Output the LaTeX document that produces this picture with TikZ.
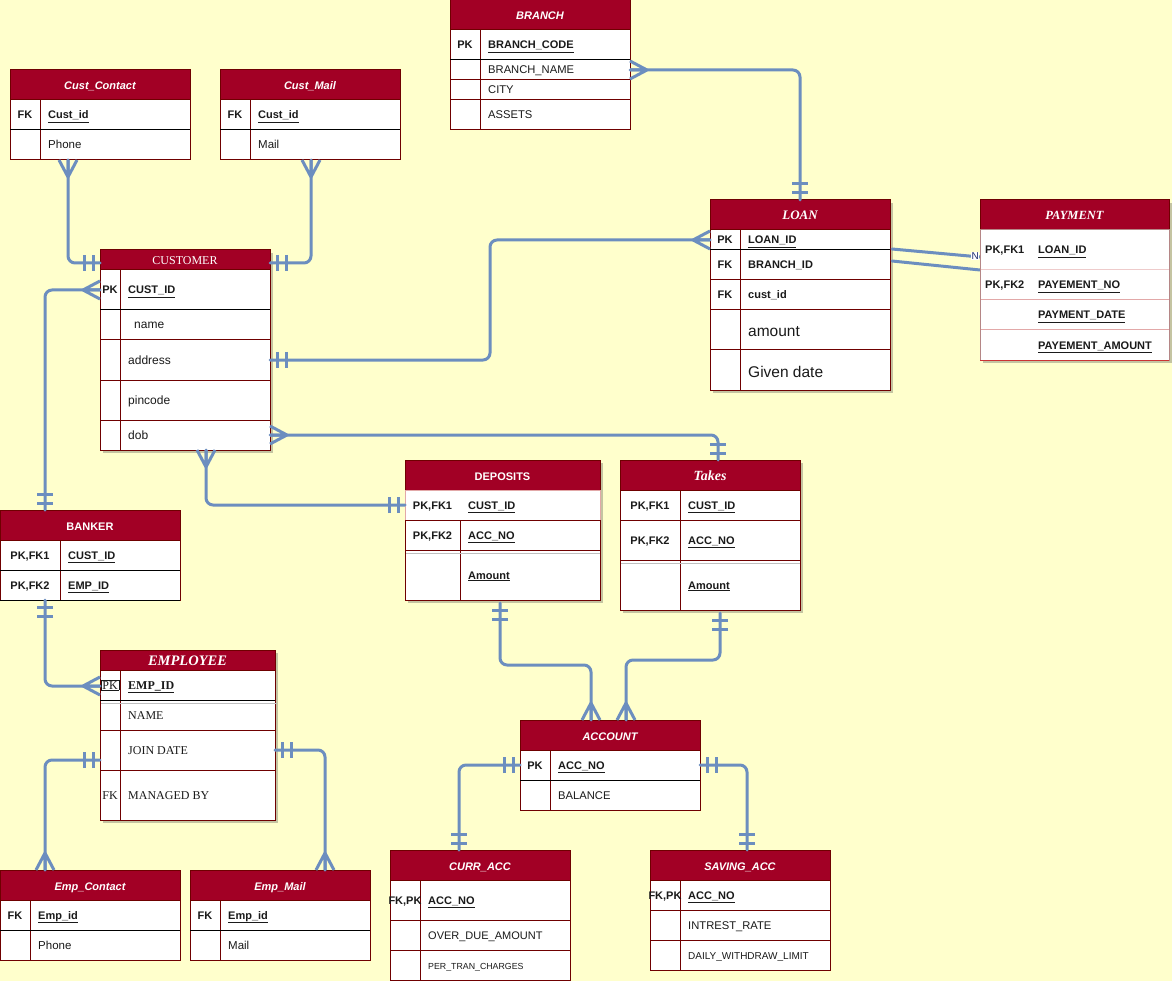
\documentclass[tikz,border=0pt]{standalone}
\usepackage{fontspec}
\setmainfont{Liberation Sans}
\newfontfamily\serifff{Liberation Serif}
\usetikzlibrary{calc}
\definecolor{bgc}{HTML}{FFFFCC}
\definecolor{hdrc}{HTML}{A20025}
\definecolor{bordc}{HTML}{6F0000}
\definecolor{connc}{HTML}{6C8EBF}
\definecolor{shadc}{HTML}{C4C4A2}
\definecolor{txtc}{HTML}{1A1A1A}
\definecolor{pinkc}{HTML}{E2A8A8}
\definecolor{redc}{HTML}{CC3333}
\definecolor{nlab}{HTML}{1F2F6F}
\newif\ifdivline \divlinetrue
\newcommand\fs[1]{\fontsize{#1}{#1}\selectfont}
\tikzset{
  hdr/.style={draw=bordc, fill=hdrc, text=white, inner sep=0pt, outer sep=0pt, line width=1pt, font=\fs{11}\bfseries\itshape},
  htxt/.style={inner sep=0pt, text=white, text height=8pt, text depth=0pt},
  rowbox/.style={draw=bordc, fill=white, inner sep=0pt, outer sep=0pt, line width=1pt},
  ktxt/.style={inner sep=0pt, text=txtc, font=\fs{11}\bfseries, text height=8pt, text depth=0pt},
  ftxt/.style={inner sep=0pt, anchor=west, text=txtc, font=\fs{11.5}, text height=8pt, text depth=0pt},
  divl/.style={draw=bordc, line width=1pt},
  blk/.style={draw=black, line width=1pt},
  greyl/.style={draw=black!25, line width=1pt},
  conn/.style={draw=connc, line width=3pt, rounded corners=7pt, line cap=round, line join=round},
  tip/.style={draw=connc, line width=3pt},
  many/.pic={\draw[tip] (17,0) -- (0,-9) (17,0) -- (0,0) (17,0) -- (0,9);},
  one/.pic={\draw[tip] (7,-8) -- (7,8) (16,-8) -- (16,8);},
}
\newcommand\erhead[6][]{%
  \node[hdr,anchor=north west,minimum width=#4,minimum height=#5,#1] (#2) at (#3) {};
  \node[htxt,hdr,draw=none,fill=none,#1] at ([yshift=-1pt]#2.center) {#6};}
\newcommand\errow[8][]{%
  \node[rowbox,anchor=north west,minimum width=#4,minimum height=#5,#1] (#2) at (#3) {};
  \ifdivline\draw[divl] ($(#2.north west)+(#6,0)$) -- ($(#2.south west)+(#6,0)$);\fi
  \node[ktxt] at ($(#2.west)+(#6/2,0)$) {#7};
  \node[ftxt] at ($(#2.west)+(#6+8,0)$) {#8};
}
\newcommand\bu[1]{{\bfseries\fs{11}\underline{#1}}}
\begin{document}
\begin{tikzpicture}[x=1pt,y=-1pt]
\fill[bgc] (0,0) rectangle (1172,981);
\useasboundingbox (0,0) rectangle (1172,981);
% shadows
\fill[shadc] (103,253) rectangle (273,453);
\fill[shadc] (713,203) rectangle (893,393);
\fill[shadc] (983,203) rectangle (1172,363);
\fill[shadc] (408,463) rectangle (603,603);
\fill[shadc] (623,463) rectangle (803,613);
\fill[shadc] (103,653) rectangle (278,823);

% Cust_Contact
\erhead{cc}{10,70}{180}{30}{Cust\_Contact}
\errow{cc1}{10,100}{180}{30}{30}{FK}{\bu{Cust\_id}}
\errow{cc2}{10,130}{180}{30}{30}{}{Phone}
\draw[blk] (cc1.south west) -- (cc1.south east);
% Cust_Mail
\erhead{cm}{220,70}{180}{30}{Cust\_Mail}
\errow{cm1}{220,100}{180}{30}{30}{FK}{\bu{Cust\_id}}
\errow{cm2}{220,130}{180}{30}{30}{}{Mail}
\draw[blk] (cm1.south west) -- (cm1.south east);
% BRANCH
\erhead{br}{450,0}{180}{30}{BRANCH}
\errow{br1}{450,30}{180}{30}{30}{PK}{\bu{BRANCH\_CODE}}
\errow{br2}{450,60}{180}{20}{30}{}{\fs{11.2}BRANCH\_NAME}
\errow{br3}{450,80}{180}{20}{30}{}{\fs{11.2}CITY}
\errow{br4}{450,100}{180}{30}{30}{}{\fs{11.2}ASSETS}
\draw[blk] (br1.south west) -- (br1.south east);
% CUSTOMER
\erhead[font=\serifff\fs{12}]{cu}{100,250}{170}{20}{CUSTOMER}
\errow{cu1}{100,270}{170}{40}{20}{PK}{\bu{CUST\_ID}}
\errow{cu2}{100,310}{170}{30}{20}{}{\fs{12}\hspace*{6pt}name}
\errow{cu3}{100,340}{170}{40}{20}{}{\fs{12}address}
\errow{cu4}{100,380}{170}{40}{20}{}{\fs{12}pincode}
\errow{cu5}{100,420}{170}{30}{20}{}{\fs{12}dob}
\draw[blk] (cu1.south west) -- (cu1.south east);
% LOAN
\erhead[font=\serifff\bfseries\itshape\fs{13}]{lo}{710,200}{180}{30}{LOAN}
\errow{lo1}{710,230}{180}{20}{30}{PK}{\bu{LOAN\_ID}}
\errow{lo2}{710,250}{180}{30}{30}{FK}{\bfseries\fs{11}BRANCH\_ID}
\errow{lo3}{710,280}{180}{30}{30}{FK}{\bfseries\fs{11}cust\_id}
\errow{lo4}{710,310}{180}{40}{30}{}{\raisebox{-3pt}{\fs{15.5}amount}}
\errow{lo5}{710,350}{180}{40}{30}{}{\raisebox{-3pt}{\fs{15.5}Given date}}
\draw[blk] (lo1.south west) -- (lo1.south east);
% DEPOSITS
\erhead[font=\bfseries\fs{11}]{dp}{405,460}{195}{30}{DEPOSITS}
\divlinefalse
\errow[draw=pinkc]{dp1}{405,490}{195}{30}{55}{PK,FK1}{\bu{CUST\_ID}}
\divlinetrue
\errow{dp2}{405,520}{195}{30}{55}{PK,FK2}{\bu{ACC\_NO}}
\errow{dp3}{405,550}{195}{50}{55}{}{\bu{Amount}}
\draw[greyl] (406,553.5) -- (600,553.5);
% Takes
\erhead[font=\serifff\bfseries\itshape\fs{14}]{tk}{620,460}{180}{30}{Takes}
\errow{tk1}{620,490}{180}{30}{60}{PK,FK1}{\bu{CUST\_ID}}
\errow{tk2}{620,520}{180}{40}{60}{PK,FK2}{\bu{ACC\_NO}}
\errow{tk3}{620,560}{180}{50}{60}{}{\bu{Amount}}
\draw[greyl] (621,563.5) -- (800,563.5);
% ACCOUNT
\erhead{ac}{520,720}{180}{30}{ACCOUNT}
\errow{ac1}{520,750}{180}{30}{30}{PK}{\bu{ACC\_NO}}
\errow{ac2}{520,780}{180}{30}{30}{}{\fs{11.2}BALANCE}
\draw[blk] (ac1.south west) -- (ac1.south east);
% BANKER
\erhead[font=\bfseries\fs{11}]{bk}{0,510}{180}{30}{BANKER}
\errow{bk1}{0,540}{180}{30}{60}{PK,FK1}{\bu{CUST\_ID}}
\errow{bk2}{0,570}{180}{30}{60}{PK,FK2}{\bu{EMP\_ID}}
\draw[blk] (bk1.south west) -- (bk1.south east);
\draw[blk] (bk2.south west) -- (bk2.south east);
% EMPLOYEE
\erhead[font=\serifff\bfseries\itshape\fs{14.5}]{em}{100,650}{175}{20}{EMPLOYEE}
\errow{em1}{100,670}{175}{30}{20}{{\serifff\mdseries\fs{12}\setlength\fboxsep{1pt}\fbox{PK}}}{{\serifff\bfseries\fs{12}\underline{EMP\_ID}}}
\errow{em2}{100,700}{175}{30}{20}{}{\serifff\fs{12}NAME}
\errow{em3}{100,730}{175}{40}{20}{}{\serifff\fs{12}JOIN DATE}
\errow{em4}{100,770}{175}{50}{20}{{\serifff\mdseries\fs{12}FK}}{\serifff\fs{12}MANAGED BY}
\draw[blk] (em1.south west) -- (em1.south east);
\draw[greyl] (101,703.5) -- (277,703.5);
% Emp_Contact
\erhead{ec}{0,870}{180}{30}{Emp\_Contact}
\errow{ec1}{0,900}{180}{30}{30}{FK}{\bu{Emp\_id}}
\errow{ec2}{0,930}{180}{30}{30}{}{Phone}
\draw[blk] (ec1.south west) -- (ec1.south east);
% Emp_Mail
\erhead{emm}{190,870}{180}{30}{Emp\_Mail}
\errow{emm1}{190,900}{180}{30}{30}{FK}{\bu{Emp\_id}}
\errow{emm2}{190,930}{180}{30}{30}{}{Mail}
\draw[blk] (emm1.south west) -- (emm1.south east);
% CURR_ACC
\erhead{ca}{390,850}{180}{30}{CURR\_ACC}
\errow{ca1}{390,880}{180}{40}{30}{FK,PK}{\bu{ACC\_NO}}
\errow{ca2}{390,920}{180}{30}{30}{}{\fs{11}OVER\_DUE\_AMOUNT}
\errow{ca3}{390,950}{180}{30}{30}{}{\fs{8.8}PER\_TRAN\_CHARGES}
% SAVING_ACC
\erhead{sa}{650,850}{180}{30}{SAVING\_ACC}
\errow{sa1}{650,880}{180}{30}{30}{FK,PK}{\bu{ACC\_NO}}
\errow{sa2}{650,910}{180}{30}{30}{}{\fs{11.2}INTREST\_RATE}
\errow{sa3}{650,940}{180}{30}{30}{}{\fs{10}DAILY\_WITHDRAW\_LIMIT}

% connector end points
\coordinate (ccS) at (68,160);   \coordinate (cuL1) at (100,263);
\coordinate (cmS) at (311,160);  \coordinate (cuR1) at (270,263);
\coordinate (bkN) at (45,510);   \coordinate (cuL2) at (100,290);
\coordinate (cuR3) at (270,360); \coordinate (loL) at (710,240);
\coordinate (brR) at (630,70);   \coordinate (loN) at (800,200);
\coordinate (cuR5) at (270,435); \coordinate (tkN) at (718,460);
\coordinate (cuS) at (206,450);  \coordinate (dpL) at (405,505);
\coordinate (dpS) at (500,603);  \coordinate (acN1) at (591,720);
\coordinate (tkS) at (720,613);  \coordinate (acN2) at (626,720);
\coordinate (bkS) at (45,600);   \coordinate (emL1) at (100,686);
\coordinate (emL3) at (100,760); \coordinate (ecN) at (45,870);
\coordinate (emR) at (275,750);  \coordinate (emmN) at (325,870);
\coordinate (acL) at (520,765);  \coordinate (caN) at (459,850);
\coordinate (acR) at (700,765);  \coordinate (saN) at (747,850);
\coordinate (loR1) at (892,249); \coordinate (paL1) at (980,257);
\coordinate (loR2) at (892,261); \coordinate (paL2) at (980,270);

% connectors
\draw[conn] (ccS) |- (cuL1);
\pic[rotate=-90] at (ccS) {many}; \pic[rotate=180] at (cuL1) {one};
\draw[conn] (cmS) |- (cuR1);
\pic[rotate=-90] at (cmS) {many}; \pic at (cuR1) {one};
\draw[conn] (bkN) |- (cuL2);
\pic[rotate=90] at (bkN) {one}; \pic[rotate=180] at (cuL2) {many};
\draw[conn] (cuR3) -- (490,360) -- (490,240) -- (loL);
\pic at (cuR3) {one}; \pic[rotate=180] at (loL) {many};
\draw[conn] (brR) -| (loN);
\pic at (brR) {many}; \pic[rotate=90] at (loN) {one};
\draw[conn] (cuR5) -| (tkN);
\pic at (cuR5) {many}; \pic[rotate=90] at (tkN) {one};
\draw[conn] (cuS) |- (dpL);
\pic[rotate=-90] at (cuS) {many}; \pic[rotate=180] at (dpL) {one};
\draw[conn] (dpS) -- (500,665) -| (acN1);
\pic[rotate=-90] at (dpS) {one}; \pic[rotate=90] at (acN1) {many};
\draw[conn] (tkS) -- (720,660) -| (acN2);
\pic[rotate=-90] at (tkS) {one}; \pic[rotate=90] at (acN2) {many};
\draw[conn] (bkS) |- (emL1);
\pic[rotate=-90] at (bkS) {one}; \pic[rotate=180] at (emL1) {many};
\draw[conn] (emL3) -| (ecN);
\pic[rotate=180] at (emL3) {one}; \pic[rotate=90] at (ecN) {many};
\draw[conn] (emR) -| (emmN);
\pic at (emR) {one}; \pic[rotate=90] at (emmN) {many};
\draw[conn] (acL) -| (caN);
\pic[rotate=180] at (acL) {one}; \pic[rotate=90] at (caN) {one};
\draw[conn] (acR) -| (saN);
\pic at (acR) {one}; \pic[rotate=90] at (saN) {one};
\draw[conn] (loR1) -- (paL1);
\draw[conn] (loR2) -- (paL2);
\node[anchor=west, fill=white, inner sep=0.5pt, text=nlab, font=\fs{10}] (nlbl) at (971,256) {N};

% PAYMENT
\erhead[font=\serifff\bfseries\itshape\fs{12.5}]{pa}{980,200}{189}{30}{PAYMENT}
\node[rowbox,draw=pinkc!80!black,anchor=north west,minimum width=189,minimum height=130] (pab) at (980,230) {};
\draw[draw=pinkc!60, line width=1pt] (980.5,270) -- (1168.5,270);
\draw[draw=pinkc, line width=1pt] (980.5,300) -- (1168.5,300);
\draw[draw=pinkc, line width=1pt] (980.5,330) -- (1168.5,330);
\draw[draw=redc, line width=1pt] (980,360) -- (1169,360);
\node[ktxt,anchor=west] (pak1) at (985,250) {PK,FK1};
\node[ftxt] (paf1) at (1038,250) {\bu{LOAN\_ID}};
\node[ktxt,anchor=west] (pak2) at (985,285) {PK,FK2};
\node[ftxt] (paf2) at (1038,285) {\bu{PAYEMENT\_NO}};
\node[ftxt] (paf3) at (1038,315) {\bu{PAYMENT\_DATE}};
\node[ftxt] (paf4) at (1038,345) {\bu{PAYEMENT\_AMOUNT}};
\end{tikzpicture}
\end{document}
